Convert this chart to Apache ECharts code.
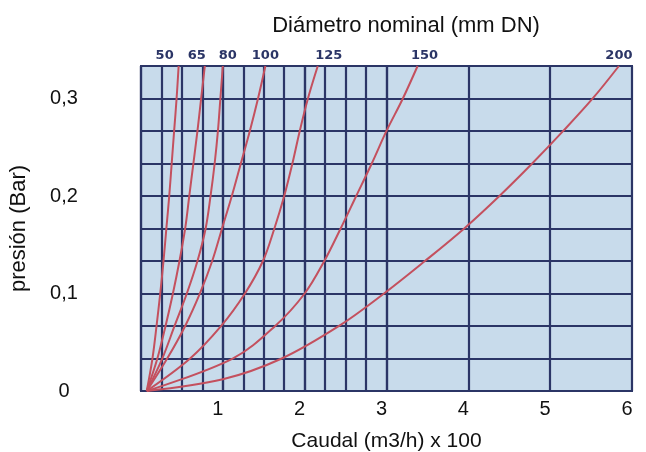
<!DOCTYPE html>
<html>
<head>
<meta charset="utf-8">
<script src="https://cdn.jsdelivr.net/npm/echarts@6/dist/echarts.min.js"></script>
<style>
html,body{margin:0;padding:0;background:#fff;}
#c{width:646px;height:452px;}
</style>
</head>
<body>
<div id="c"></div>
<script>
// Diameter names (mm DN)
const dnNames = ['50', '65', '80', '100', '125', '150', '200'];
// pressure levels (bar) at which flow values were read
const pLevels = [0, 0.0333, 0.0667, 0.1, 0.1333, 0.1667, 0.2, 0.2333, 0.2667, 0.3, 0.3333];
// flow (m3/h x 100) at each pressure level, per diameter
const q50  = [0.07, 0.14, 0.19, 0.235, 0.275, 0.31, 0.345, 0.375, 0.405, 0.435, 0.46];
const q65  = [0.07, 0.20, 0.30, 0.39, 0.47, 0.54, 0.59, 0.64, 0.69, 0.735, 0.78];
const q80  = [0.07, 0.26, 0.41, 0.56, 0.69, 0.79, 0.85, 0.90, 0.94, 0.97, 1.0];
const q100 = [0.07, 0.32, 0.54, 0.72, 0.87, 0.99, 1.11, 1.22, 1.33, 1.43, 1.52];
const q125 = [0.07, 0.60, 0.98, 1.27, 1.49, 1.63, 1.75, 1.85, 1.94, 2.04, 2.16];
const q150 = [0.07, 1.12, 1.64, 2.0, 2.24, 2.44, 2.63, 2.82, 3.0, 3.2, 3.38];
// DN 200 has one extra low point
const p200 = [0, 0.012, 0.0333, 0.0667, 0.1, 0.1333, 0.1667, 0.2, 0.2333, 0.2667, 0.3, 0.3333];
const q200 = [0.07, 1.0, 1.72, 2.42, 2.97, 3.47, 3.95, 4.38, 4.78, 5.16, 5.52, 5.84];
// x tick labels
const xTicks = [1, 2, 3, 4, 5, 6];

const curves = [
  {q: q50, p: pLevels}, {q: q65, p: pLevels}, {q: q80, p: pLevels},
  {q: q100, p: pLevels}, {q: q125, p: pLevels}, {q: q150, p: pLevels},
  {q: q200, p: p200}
];
const labelDx = [-14, -8, 5, 0, 11, 7, 0];

const navy = '#2b3566';
const red = '#c4505e';
const font = 'Liberation Sans, Arial, sans-serif';

const series = curves.map((c, i) => {
  const data = c.q.map((q, j) => [q, c.p[j]]);
  const last = data[data.length - 1];
  return {
    name: dnNames[i],
    type: 'line',
    xAxisIndex: 0, yAxisIndex: 0,
    data: data,
    smooth: 0.35,
    symbol: 'none',
    z: 5,
    lineStyle: {color: red, width: 2},
    markPoint: {
      symbol: 'circle', symbolSize: 0,
      data: [{coord: last, value: dnNames[i]}],
      label: {
        show: true, position: 'inside', formatter: dnNames[i],
        offset: [labelDx[i], -10],
        color: navy, fontFamily: 'DejaVu Sans, sans-serif', fontWeight: 'bold', fontSize: 13
      }
    }
  };
});
// dummy series to attach the fine grid (second grid)
series.push({type: 'line', xAxisIndex: 1, yAxisIndex: 1, data: [], silent: true});

const chart = echarts.init(document.getElementById('c'), null, {renderer: 'canvas'});
chart.setOption({
  animation: false,
  backgroundColor: '#ffffff',
  title: {
    text: 'Diámetro nominal (mm DN)',
    left: 401, top: 10, textAlign: 'center',
    textStyle: {fontFamily: font, fontSize: 22, fontWeight: 'normal', color: '#111'}
  },
  grid: [
    {left: 141, right: 14, top: 66, bottom: 61, show: true, outerBoundsMode: 'none', containLabel: false,
     backgroundColor: '#c8dbeb', borderColor: navy, borderWidth: 2, z: 0},
    {left: 141, width: 245.5, top: 66, bottom: 61, show: false, outerBoundsMode: 'none', containLabel: false, z: 1}
  ],
  xAxis: [
    {
      gridIndex: 0, type: 'value', min: 0, max: 6, interval: 1,
      name: 'Caudal (m3/h) x 100', nameLocation: 'middle', nameGap: 40,
      nameTextStyle: {fontFamily: font, fontSize: 21, color: '#111'},
      axisLine: {show: false}, axisTick: {show: false},
      axisLabel: {
        fontFamily: font, fontSize: 20, color: '#111', margin: 8,
        padding: [0, 10, 0, 0],
        formatter: v => xTicks.indexOf(v) >= 0 ? String(v) : ''
      },
      splitLine: {show: true, lineStyle: {color: navy, width: 2.2}},
      z: 3
    },
    {
      gridIndex: 1, type: 'value', min: 0, max: 3, interval: 0.25,
      axisLine: {show: false}, axisTick: {show: false}, axisLabel: {show: false},
      splitLine: {show: true, lineStyle: {color: navy, width: 2.2}},
      z: 3
    }
  ],
  yAxis: [
    {
      gridIndex: 0, type: 'value', min: 0, max: 0.3333, interval: 0.03333,
      name: 'presión (Bar)', nameLocation: 'middle', nameGap: 111, nameRotate: 90,
      nameTextStyle: {fontFamily: font, fontSize: 22, color: '#111'},
      axisLine: {show: false}, axisTick: {show: false},
      axisLabel: {
        fontFamily: font, fontSize: 20, color: '#111', margin: 77, align: 'center',
        formatter: v => {
          const k = Math.round(v / 0.03333);
          if (k % 3 !== 0) return '';
          if (k === 0) return '0';
          return (k / 30).toFixed(1).replace('.', ',');
        }
      },
      splitLine: {show: true, lineStyle: {color: navy, width: 2.2}},
      z: 3
    },
    {
      gridIndex: 1, type: 'value', min: 0, max: 0.3333,
      axisLine: {show: false}, axisTick: {show: false}, axisLabel: {show: false},
      splitLine: {show: false}
    }
  ],
  series: series
});
</script>
</body>
</html>
